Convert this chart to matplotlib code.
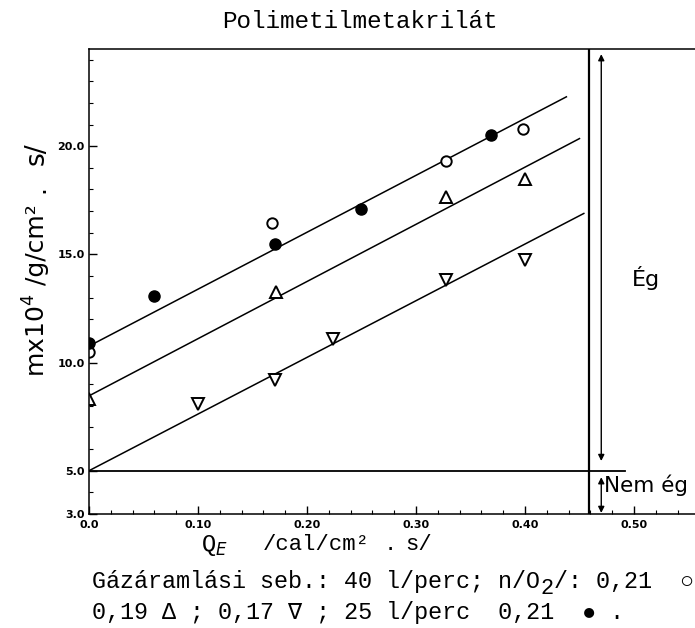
import numpy as np
import matplotlib.pyplot as plt
from matplotlib.ticker import MultipleLocator, FixedLocator

# mérési pontok: Q_E /cal/cm2 . s/  és  m x 10^4 /g/cm2 . s/
q_kor_ures = [0.0, 0.168, 0.328, 0.398]          # 40 l/perc, n/O2/ 0,21
m_kor_ures = [10.48, 16.47, 19.3, 20.8]
q_harom_fel = [0.0, 0.172, 0.328, 0.40]          # 0,19
m_harom_fel = [8.32, 13.25, 17.63, 18.5]
q_harom_le = [0.10, 0.171, 0.224, 0.328, 0.40]   # 0,17
m_harom_le = [8.09, 9.2, 11.08, 13.8, 14.72]
q_kor_tele = [0.0, 0.06, 0.171, 0.25, 0.369]     # 25 l/perc, 0,21
m_kor_tele = [10.9, 13.06, 15.5, 17.1, 20.53]

# illesztett egyenesek végpontjai
egyenes_q = [[0.0, 0.438], [0.0, 0.450], [0.0, 0.454]]
egyenes_m = [[10.76, 22.28], [8.46, 20.35], [5.0, 16.89]]

# égési határ
hatar_m = 5.0
hatar_q = 0.459
nyil_q = 0.470

y_tick_ertekek = [3.0, 5.0, 10.0, 15.0, 20.0]
x_tick_ertekek = [0.0, 0.1, 0.2, 0.3, 0.4, 0.5]
x_tick_feliratok = ['0.0', '0.10', '0.20', '0.30', '0.40', '0.50']

mono = ['Liberation Mono', 'DejaVu Sans Mono', 'DejaVu Sans']
W, H = 695, 628

fig = plt.figure(figsize=(6.95, 6.28), dpi=100)
ax = fig.add_axes([89/W, 114/H, 606/W, 465/H])

for xs, ys in zip(egyenes_q, egyenes_m):
    ax.plot(xs, ys, color='black', lw=1.1)

ax.plot(q_kor_ures, m_kor_ures, 'o', ms=7.5, mfc='white', mec='black', mew=1.4)
ax.plot(q_harom_fel, m_harom_fel, '^', ms=8, mfc='white', mec='black', mew=1.4)
ax.plot(q_harom_le, m_harom_le, 'v', ms=8, mfc='white', mec='black', mew=1.4)
ax.plot(q_kor_tele, m_kor_tele, 'o', ms=8, mfc='black', mec='black')

# határvonalak
ax.plot([0.0, 0.492], [hatar_m, hatar_m], color='black', lw=1.3)
ax.axvline(hatar_q, color='black', lw=1.6)
ax.annotate('', xy=(nyil_q, 24.25), xytext=(nyil_q, 5.45),
            arrowprops=dict(arrowstyle='<|-|>', color='black', lw=1.0,
                            mutation_scale=9, shrinkA=0, shrinkB=0))
ax.annotate('', xy=(nyil_q, 3.05), xytext=(nyil_q, 4.7),
            arrowprops=dict(arrowstyle='<|-|>', color='black', lw=1.0,
                            mutation_scale=9, shrinkA=0, shrinkB=0))
ax.text(0.511, 13.9, 'Ég', fontsize=16, ha='center', va='center')
ax.text(0.4725, 4.35, 'Nem ég', fontsize=15.5, ha='left', va='center')

ax.set_xlim(0, 0.556)
ax.set_ylim(3.0, 24.49)
ax.spines['right'].set_visible(False)
for s in ['left', 'bottom', 'top']:
    ax.spines[s].set_linewidth(1.1)

ax.yaxis.set_major_locator(FixedLocator(y_tick_ertekek))
ax.yaxis.set_minor_locator(MultipleLocator(1.0))
ax.set_yticklabels(['%.1f' % v for v in y_tick_ertekek])
ax.xaxis.set_major_locator(FixedLocator(x_tick_ertekek))
ax.xaxis.set_minor_locator(MultipleLocator(0.02))
ax.set_xticklabels(x_tick_feliratok)
ax.tick_params(which='both', direction='in', labelsize=8)
ax.tick_params(which='major', length=6, width=1)
ax.tick_params(which='minor', length=3, width=0.8)
for t in ax.get_xticklabels() + ax.get_yticklabels():
    t.set_fontweight('bold')
ax.tick_params(axis='y', pad=3)
ax.tick_params(axis='x', pad=4)

fig.text(360/W, 1 - 22/H, 'Polimetilmetakrilát', family=mono,
         fontsize=17.5, ha='center', va='center')

# függőleges tengelyfelirat
fig.text(37/W, 1 - 377/H, 'mx10$^4$', rotation=90, fontsize=18,
         ha='center', va='bottom')
fig.text(37/W, 1 - 285/H, '/g/cm²', rotation=90, fontsize=18,
         ha='center', va='bottom')
fig.text(37/W, 1 - 189/H, '.', rotation=90, fontsize=18,
         ha='center', va='center')
fig.text(37/W, 1 - 165/H, 's/', rotation=90, fontsize=19,
         ha='center', va='bottom')

# vízszintes tengelyfelirat
fig.text(201/W, 1 - 545/H, 'Q$_E$', family=mono, fontsize=17,
         ha='left', va='center')
fig.text(263/W, 1 - 545/H, '/cal/cm²', family=mono, fontsize=16,
         ha='left', va='center')
fig.text(390/W, 1 - 545/H, '.', family=mono, fontsize=16,
         ha='center', va='center')
fig.text(405/W, 1 - 545/H, 's/', family=mono, fontsize=16,
         ha='left', va='center')

# írógépes jelmagyarázat, a karakterek egyenlő osztásban
betu = 16.8
lepes = betu / 72 * 100 * 0.6     # egy karakter szélessége pixelben
x0 = 92
sor1_eleje = 'Gázáramlási seb.: 40 l/perc; n/O'
sor1_vege = '/: 0,21  ○'
sor2 = '0,19 Δ ; 0,17 ∇ ; 25 l/perc  0,21  ● .'
alap1 = 1 - 588/H
fig.text(x0/W, alap1, sor1_eleje, family=mono, fontsize=betu,
         ha='left', va='baseline')
fig.text((x0 + len(sor1_eleje) * lepes + 1)/W, alap1 - 6/H, '2', family=mono,
         fontsize=betu - 1, ha='left', va='baseline')
fig.text((x0 + (len(sor1_eleje) + 1) * lepes)/W, alap1, sor1_vege,
         family=mono, fontsize=betu, ha='left', va='baseline')
fig.text(x0/W, 1 - 619/H, sor2, family=mono, fontsize=betu,
         ha='left', va='baseline')

fig.savefig('out.png', dpi=100)
